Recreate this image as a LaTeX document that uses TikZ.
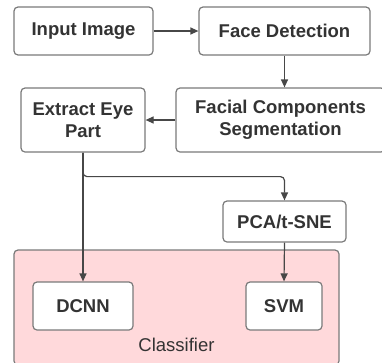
\documentclass[tikz,border=0pt]{standalone}
\usepackage{fontspec}
\setmainfont{Liberation Sans}
\usetikzlibrary{arrows.meta}
\definecolor{boxline}{HTML}{7A7A7A}
\definecolor{wire}{HTML}{474747}
\definecolor{txt}{HTML}{333333}
\definecolor{clspink}{HTML}{FFD9DB}
\begin{document}
\begin{tikzpicture}[x=1pt, y=-1pt,
    block/.style={draw=boxline, line width=1.2pt, rounded corners=4pt, fill=white, align=center,
      text=txt, font=\fontsize{18.5}{22}\selectfont\bfseries, inner sep=0pt},
    link/.style={draw=wire, line width=1.2pt, -{Triangle[length=8pt, width=7pt]}}]
        \useasboundingbox (0,0) rectangle (382,362);
        \clip (0,0) rectangle (382,362);

        % Classifier group
        \draw (176.5,307.5) node[draw=boxline, line width=1.2pt, rounded corners=4pt, fill=clspink,
          minimum width=325pt, minimum height=115pt] (cls) {};
        \draw (176.5,345) node[text=txt, font=\fontsize{18.5}{22}\selectfont] (clslabel) {Classifier};

        % Nodes
        \draw (83.5,31)   node[block, minimum width=139pt, minimum height=48pt] (input) {Input Image};
        \draw (284.5,31)  node[block, minimum width=171pt, minimum height=48pt] (face) {Face Detection};
        \draw (83,120)    node[block, minimum width=124pt, minimum height=64pt] (eye) {Extract Eye\\Part};
        \draw (280.5,120) node[block, minimum width=209pt, minimum height=64pt] (seg) {Facial Components\\Segmentation};
        \draw (284.5,221.5) node[block, minimum width=123pt, minimum height=41pt] (pca) {PCA/t-SNE};
        \draw (83,306)    node[block, minimum width=100pt, minimum height=48pt] (dcnn) {DCNN};
        \draw (284,306)   node[block, minimum width=76pt, minimum height=48pt] (svm) {SVM};

        % Pipeline
        \draw[link] (input.east) -- (face.west);
        \draw[link] (face.south) -- (face.south |- seg.north);
        \draw[link] (seg.west) -- (eye.east);

        % Eye features to both classifiers
        \draw[link] (eye.south) -- (dcnn.north);
        \draw[link, rounded corners=4pt] (eye.south) -- ++(0,24) -| (pca.north);
        \draw[link] (pca.south) -- (svm.north);
    \end{tikzpicture}
\end{document}
